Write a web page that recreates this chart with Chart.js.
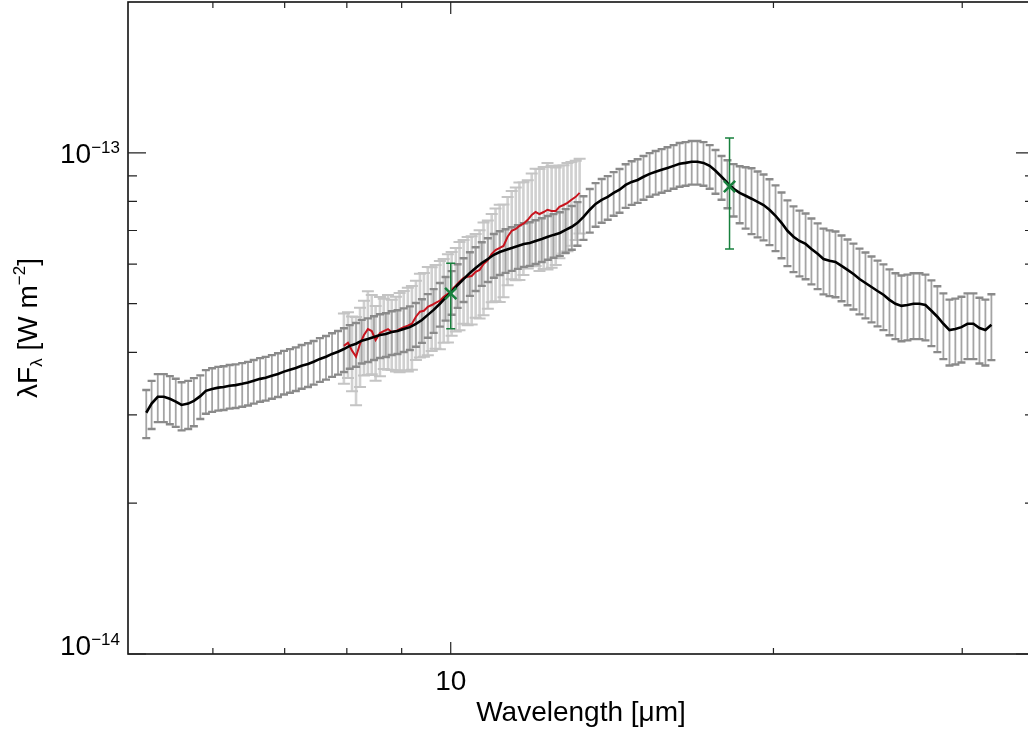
<!DOCTYPE html>
<html>
<head>
<meta charset="utf-8">
<script src="https://cdn.jsdelivr.net/npm/chart.js@4.4.1/dist/chart.umd.min.js"></script>
<style>
  html, body { margin: 0; padding: 0; background: #fff; overflow: hidden; }
  #contenedor { width: 1028px; height: 730px; overflow: hidden; }
  canvas { display: block; }
</style>
</head>
<body>
<div id="contenedor"><canvas id="grafico-sed" width="1040" height="730"></canvas></div>
<script>
/**
 * Distribución espectral de energía: modelo, espectro y fotometría
 * Longitud de onda en micras, flujo en unidades de 1e-14 W m^-2
 */

const UNIDAD_FLUJO = 1e-14;

// Modelo (línea negra con barras grises)
const longitudOndaModelo = [
  5.20, 5.26, 5.33, 5.40, 5.47, 5.54, 5.61, 5.69, 5.76, 5.84,
  5.91, 5.99, 6.07, 6.14, 6.22, 6.30, 6.39, 6.47, 6.55, 6.64,
  6.72, 6.81, 6.90, 6.99, 7.08, 7.17, 7.26, 7.36, 7.45, 7.55,
  7.65, 7.75, 7.85, 7.95, 8.05, 8.16, 8.26, 8.37, 8.48, 8.59,
  8.70, 8.81, 8.92, 9.04, 9.16, 9.28, 9.40, 9.52, 9.64, 9.77,
  9.89, 10.02, 10.15, 10.28, 10.42, 10.55, 10.69, 10.83, 10.97, 11.11,
  11.25, 11.40, 11.55, 11.70, 11.85, 12.00, 12.16, 12.32, 12.47, 12.64,
  12.80, 12.97, 13.13, 13.30, 13.48, 13.65, 13.83, 14.01, 14.19, 14.37,
  14.56, 14.75, 14.94, 15.13, 15.33, 15.53, 15.73, 15.93, 16.14, 16.35,
  16.56, 16.78, 16.99, 17.21, 17.44, 17.66, 17.89, 18.12, 18.36, 18.60,
  18.84, 19.08, 19.33, 19.58, 19.83, 20.09, 20.35, 20.61, 20.88, 21.15,
  21.43, 21.70, 21.99, 22.27, 22.56, 22.85, 23.15, 23.45, 23.75, 24.06,
  24.37, 24.69, 25.01, 25.33, 25.66, 25.99, 26.33, 26.67, 27.02, 27.37,
  27.72, 28.08, 28.44, 28.81, 29.19, 29.56, 29.95, 30.34, 30.73, 31.13,
  31.53, 31.94
];
const flujoModelo = [
  3.03, 3.16, 3.26, 3.26, 3.23, 3.19, 3.14, 3.16, 3.20, 3.27,
  3.35, 3.38, 3.40, 3.41, 3.43, 3.44, 3.46, 3.48, 3.51, 3.54,
  3.56, 3.59, 3.62, 3.66, 3.69, 3.72, 3.76, 3.79, 3.83, 3.88,
  3.92, 3.97, 4.01, 4.06, 4.12, 4.16, 4.22, 4.25, 4.29, 4.33,
  4.35, 4.39, 4.41, 4.45, 4.49, 4.56, 4.64, 4.75, 4.86, 5.00,
  5.14, 5.28, 5.45, 5.60, 5.76, 5.89, 6.03, 6.14, 6.26, 6.34,
  6.40, 6.46, 6.52, 6.58, 6.61, 6.67, 6.73, 6.80, 6.86, 6.92,
  7.02, 7.12, 7.25, 7.45, 7.70, 7.91, 8.06, 8.17, 8.32, 8.44,
  8.63, 8.75, 8.83, 8.96, 9.08, 9.17, 9.25, 9.33, 9.42, 9.51,
  9.55, 9.60, 9.60, 9.55, 9.42, 9.21, 8.96, 8.71, 8.48, 8.32,
  8.21, 8.10, 7.98, 7.87, 7.70, 7.49, 7.25, 6.99, 6.80, 6.67,
  6.58, 6.43, 6.29, 6.14, 6.09, 6.06, 5.95, 5.84, 5.73, 5.60,
  5.50, 5.40, 5.30, 5.21, 5.09, 5.00, 4.95, 4.97, 5.00, 5.00,
  4.97, 4.84, 4.71, 4.56, 4.43, 4.45, 4.49, 4.56, 4.56, 4.47,
  4.43, 4.54
];
// Error relativo de cada punto del modelo
const errorModelo = [
  0.11, 0.11, 0.11, 0.11, 0.11, 0.11, 0.11, 0.11, 0.11, 0.10,
  0.10, 0.10, 0.10, 0.10, 0.10, 0.10, 0.10, 0.10, 0.10, 0.10,
  0.10, 0.10, 0.10, 0.10, 0.10, 0.10, 0.10, 0.10, 0.10, 0.10,
  0.10, 0.10, 0.10, 0.10, 0.10, 0.10, 0.10, 0.10, 0.10, 0.10,
  0.10, 0.10, 0.10, 0.10, 0.10, 0.10, 0.10, 0.10, 0.10, 0.10,
  0.10, 0.10, 0.10, 0.10, 0.10, 0.10, 0.10, 0.10, 0.10, 0.10,
  0.10, 0.10, 0.10, 0.10, 0.10, 0.10, 0.10, 0.10, 0.10, 0.10,
  0.10, 0.10, 0.10, 0.10, 0.10, 0.10, 0.10, 0.10, 0.10, 0.10,
  0.10, 0.10, 0.10, 0.10, 0.10, 0.10, 0.10, 0.10, 0.10, 0.10,
  0.10, 0.10, 0.10, 0.10, 0.10, 0.10, 0.10, 0.11, 0.12, 0.13,
  0.14, 0.15, 0.15, 0.15, 0.15, 0.15, 0.15, 0.15, 0.15, 0.15,
  0.15, 0.15, 0.15, 0.15, 0.15, 0.15, 0.15, 0.15, 0.15, 0.15,
  0.15, 0.15, 0.15, 0.15, 0.15, 0.15, 0.15, 0.15, 0.15, 0.15,
  0.15, 0.15, 0.15, 0.15, 0.15, 0.15, 0.15, 0.15, 0.15, 0.15,
  0.15, 0.15
];

// Espectro observado (línea roja con barras gris claro)
const longitudOndaEspectro = [
  7.95, 8.02, 8.09, 8.16, 8.23, 8.30, 8.37, 8.44, 8.51, 8.59,
  8.66, 8.74, 8.81, 8.89, 8.96, 9.04, 9.12, 9.20, 9.28, 9.36,
  9.44, 9.52, 9.60, 9.68, 9.77, 9.85, 9.94, 10.02, 10.11, 10.19,
  10.28, 10.37, 10.46, 10.55, 10.64, 10.73, 10.83, 10.92, 11.01, 11.11,
  11.20, 11.30, 11.40, 11.50, 11.59, 11.69, 11.80, 11.90, 12.00, 12.10,
  12.21, 12.31, 12.42, 12.53, 12.63, 12.74, 12.85, 12.96, 13.08, 13.19
];
const flujoEspectro = [
  4.12, 4.18, 4.03, 3.92, 4.16, 4.33, 4.45, 4.41, 4.23, 4.37,
  4.41, 4.45, 4.39, 4.41, 4.45, 4.49, 4.52, 4.56, 4.71, 4.82,
  4.84, 4.93, 4.97, 5.02, 5.07, 5.16, 5.23, 5.33, 5.43, 5.53,
  5.63, 5.66, 5.68, 5.79, 5.84, 6.00, 6.11, 6.29, 6.40, 6.46,
  6.52, 6.80, 6.99, 7.05, 7.15, 7.22, 7.35, 7.52, 7.62, 7.55,
  7.62, 7.70, 7.66, 7.66, 7.80, 7.87, 7.95, 8.06, 8.17, 8.32
];
const errorEspectro = [
  0.16, 0.15, 0.17, 0.20, 0.18, 0.17, 0.19, 0.18, 0.17, 0.18,
  0.16, 0.17, 0.16, 0.17, 0.18, 0.18, 0.19, 0.19, 0.18, 0.19,
  0.19, 0.20, 0.19, 0.19, 0.20, 0.19, 0.20, 0.19, 0.19, 0.20,
  0.19, 0.20, 0.20, 0.19, 0.20, 0.21, 0.20, 0.20, 0.21, 0.22,
  0.21, 0.20, 0.20, 0.21, 0.22, 0.21, 0.20, 0.21, 0.22, 0.23,
  0.23, 0.24, 0.23, 0.22, 0.21, 0.20, 0.20, 0.19, 0.18, 0.17
];

// Fotometría (cruces verdes), error absoluto
const longitudOndaFotometria = [10.0, 18.2];
const flujoFotometria = [5.24, 8.57];
const errorFotometria = [0.785, 2.14];

// Marcas de los ejes
const ticksMayoresX = [10];
const etiquetasX = ['10'];
const ticksMenoresX = [6, 7, 8, 9, 20, 30];
const ticksMayoresY = [1e-14, 1e-13];
const etiquetasY = [['10', '\u221214'], ['10', '\u221213']];
const ticksMenoresY = [2e-14, 3e-14, 4e-14, 5e-14, 6e-14, 7e-14, 8e-14, 9e-14];

const FUENTE = '"Liberation Sans", Arial, Helvetica, sans-serif';
const VERDE = '#17803d';

/**
 * Construye los puntos {x, y} de una serie
 */
function construirPuntos(longitudes, flujos) {
  return longitudes.map((l, i) => ({ x: l, y: flujos[i] * UNIDAD_FLUJO }));
}

/**
 * Dibuja barras de error verticales con remates horizontales
 */
function dibujarBarras(ctx, escalaX, escalaY, longitudes, inferiores, superiores, estilo) {
  const posiciones = longitudes.map((l, i) => ({
    x: escalaX.getPixelForValue(l),
    arriba: escalaY.getPixelForValue(superiores[i]),
    abajo: escalaY.getPixelForValue(inferiores[i])
  }));

  ctx.strokeStyle = estilo.colorBarra;
  ctx.lineWidth = estilo.anchoBarra;
  ctx.beginPath();
  posiciones.forEach(p => {
    ctx.moveTo(p.x, p.arriba);
    ctx.lineTo(p.x, p.abajo);
  });
  ctx.stroke();

  ctx.strokeStyle = estilo.colorRemate;
  ctx.lineWidth = estilo.anchoRemate;
  ctx.beginPath();
  posiciones.forEach(p => {
    ctx.moveTo(p.x - estilo.mitadRemate, p.arriba);
    ctx.lineTo(p.x + estilo.mitadRemate, p.arriba);
    ctx.moveTo(p.x - estilo.mitadRemate, p.abajo);
    ctx.lineTo(p.x + estilo.mitadRemate, p.abajo);
  });
  ctx.stroke();
}

const pluginBarrasError = {
  id: 'barrasError',
  beforeDatasetsDraw(chart) {
    const { ctx, chartArea, scales } = chart;
    ctx.save();
    ctx.beginPath();
    ctx.rect(chartArea.left, chartArea.top, chartArea.right - chartArea.left, chartArea.bottom - chartArea.top);
    ctx.clip();

    // Barras del espectro
    dibujarBarras(ctx, scales.x, scales.y, longitudOndaEspectro,
      flujoEspectro.map((f, i) => f * (1 - errorEspectro[i]) * UNIDAD_FLUJO),
      flujoEspectro.map((f, i) => f * (1 + errorEspectro[i]) * UNIDAD_FLUJO),
      { colorBarra: '#d0d0d0', anchoBarra: 2.6, colorRemate: '#c4c4c4', anchoRemate: 2, mitadRemate: 6 });

    // Barras del modelo
    dibujarBarras(ctx, scales.x, scales.y, longitudOndaModelo,
      flujoModelo.map((f, i) => f * (1 - errorModelo[i]) * UNIDAD_FLUJO),
      flujoModelo.map((f, i) => f * (1 + errorModelo[i]) * UNIDAD_FLUJO),
      { colorBarra: '#a4a4a4', anchoBarra: 1.8, colorRemate: '#8a8a8a', anchoRemate: 2.4, mitadRemate: 4 });

    ctx.restore();
  },
  afterDatasetsDraw(chart) {
    const { ctx, scales } = chart;
    ctx.save();
    dibujarBarras(ctx, scales.x, scales.y, longitudOndaFotometria,
      flujoFotometria.map((f, i) => (f - errorFotometria[i]) * UNIDAD_FLUJO),
      flujoFotometria.map((f, i) => (f + errorFotometria[i]) * UNIDAD_FLUJO),
      { colorBarra: VERDE, anchoBarra: 1.5, colorRemate: VERDE, anchoRemate: 1.5, mitadRemate: 4.5 });
    ctx.restore();
  }
};

/**
 * Escribe una potencia de diez alineada a la derecha
 */
function dibujarPotencia(ctx, base, exponente, xDerecha, linea) {
  ctx.font = '17px ' + FUENTE;
  const anchoExp = ctx.measureText(exponente).width;
  ctx.font = '28px ' + FUENTE;
  const anchoBase = ctx.measureText(base).width;
  ctx.textAlign = 'left';
  ctx.textBaseline = 'alphabetic';
  ctx.fillText(base, xDerecha - anchoExp - anchoBase, linea);
  ctx.font = '17px ' + FUENTE;
  ctx.fillText(exponente, xDerecha - anchoExp, linea - 10);
}

const pluginMarco = {
  id: 'marco',
  afterDraw(chart) {
    const { ctx, chartArea: a, scales } = chart;
    const ex = scales.x;
    const ey = scales.y;
    ctx.save();
    ctx.fillStyle = '#000';

    // Marco
    ctx.strokeStyle = '#111';
    ctx.lineWidth = 1.6;
    ctx.strokeRect(a.left, a.top, a.right - a.left, a.bottom - a.top);

    // Marcas hacia dentro en los cuatro lados
    ctx.lineWidth = 1.2;
    ctx.strokeStyle = '#222';
    ctx.beginPath();
    const marcaX = (v, largo) => {
      const px = ex.getPixelForValue(v);
      ctx.moveTo(px, a.bottom);
      ctx.lineTo(px, a.bottom - largo);
      ctx.moveTo(px, a.top);
      ctx.lineTo(px, a.top + largo);
    };
    const marcaY = (v, largo) => {
      const py = ey.getPixelForValue(v);
      ctx.moveTo(a.left, py);
      ctx.lineTo(a.left + largo, py);
      ctx.moveTo(a.right, py);
      ctx.lineTo(a.right - largo, py);
    };
    ticksMenoresX.forEach(v => marcaX(v, 6));
    ticksMayoresX.forEach(v => marcaX(v, 12));
    ticksMenoresY.forEach(v => marcaY(v, 9));
    ticksMayoresY.forEach(v => marcaY(v, 18));
    ctx.stroke();

    // Etiquetas del eje Y
    ticksMayoresY.forEach((v, i) => {
      const py = ey.getPixelForValue(v);
      const linea = Math.min(py + 10, a.bottom + 1);
      dibujarPotencia(ctx, etiquetasY[i][0], etiquetasY[i][1], a.left - 8, linea);
    });

    // Etiquetas del eje X
    ctx.font = '28px ' + FUENTE;
    ctx.textAlign = 'center';
    ctx.textBaseline = 'alphabetic';
    ticksMayoresX.forEach((v, i) => {
      ctx.fillText(etiquetasX[i], ex.getPixelForValue(v), 690);
    });

    // Título del eje X
    ctx.fillText('Wavelength [\u03bcm]', (a.left + a.right) / 2, 721);

    // Título del eje Y con subíndice y superíndice
    const piezas = [
      { texto: '\u03bbF', tam: 28, dy: 0 },
      { texto: '\u03bb', tam: 17, dy: 5 },
      { texto: ' [W m', tam: 28, dy: 0 },
      { texto: '\u22122', tam: 17, dy: -12 },
      { texto: ']', tam: 28, dy: 0 }
    ];
    let total = 0;
    piezas.forEach(p => {
      ctx.font = p.tam + 'px ' + FUENTE;
      p.ancho = ctx.measureText(p.texto).width;
      total += p.ancho;
    });
    ctx.translate(37, (a.top + a.bottom) / 2);
    ctx.rotate(-Math.PI / 2);
    ctx.textAlign = 'left';
    let cursor = -total / 2;
    piezas.forEach(p => {
      ctx.font = p.tam + 'px ' + FUENTE;
      ctx.fillText(p.texto, cursor, p.dy);
      cursor += p.ancho;
    });

    ctx.restore();
  }
};

/**
 * Inicializa el gráfico
 */
function inicializarGrafico() {
  const lienzo = document.getElementById('grafico-sed');
  return new Chart(lienzo, {
    type: 'scatter',
    data: {
      datasets: [
        {
          label: 'Fotometría',
          data: construirPuntos(longitudOndaFotometria, flujoFotometria),
          showLine: false,
          pointStyle: 'crossRot',
          pointRadius: 8,
          borderColor: VERDE,
          backgroundColor: VERDE,
          borderWidth: 2.5
        },
        {
          label: 'Modelo',
          data: construirPuntos(longitudOndaModelo, flujoModelo),
          showLine: true,
          borderColor: '#000',
          borderWidth: 2.6,
          pointRadius: 0,
          tension: 0
        },
        {
          label: 'Espectro',
          data: construirPuntos(longitudOndaEspectro, flujoEspectro),
          showLine: true,
          borderColor: '#c8141e',
          borderWidth: 2,
          pointRadius: 0,
          tension: 0
        }
      ]
    },
    options: {
      responsive: false,
      animation: false,
      devicePixelRatio: 1,
      layout: { autoPadding: false, padding: { left: 128, right: 6, top: 2, bottom: 76 } },
      plugins: {
        legend: { display: false },
        tooltip: { enabled: false }
      },
      scales: {
        x: { type: 'logarithmic', min: 5, max: 35, display: false },
        y: { type: 'logarithmic', min: 1e-14, max: 2e-13, display: false }
      }
    },
    plugins: [pluginBarrasError, pluginMarco]
  });
}

inicializarGrafico();
</script>
</body>
</html>
